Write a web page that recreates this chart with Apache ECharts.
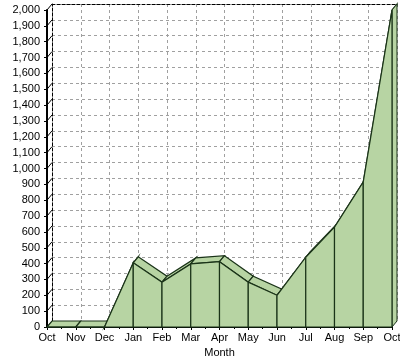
<!DOCTYPE html>
<html><head><meta charset="utf-8">
<script src="https://cdn.jsdelivr.net/npm/echarts@6/dist/echarts.min.js"></script>
<style>html,body{margin:0;padding:0;background:#fff}#c{width:400px;height:356px}</style>
</head><body><div id="c"></div>
<script>
const months = ['Oct','Nov','Dec','Jan','Feb','Mar','Apr','May','Jun','Jul','Aug','Sep','Oct'];
const visits = [0, 0, 0, 405, 283, 398, 412, 283, 200, 440, 630, 915, 2000];
const yTicks = [0,100,200,300,400,500,600,700,800,900,1000,1100,1200,1300,1400,1500,1600,1700,1800,1900,2000];

const DX = 5, DY = 6;
const FILL = '#b7d4a3', EDGE = '#1a3318';
const FONT = 'Liberation Sans';
const fmt = v => String(v).replace(/\B(?=(\d{3})+(?!\d))/g, ',');

const pts = visits.map((v, i) => [i, v]);

const chart = echarts.init(document.getElementById('c'), null, {renderer: 'canvas'});
chart.setOption({
  animation: false,
  grid: [
    {left: 47, right: 8, top: 10, bottom: 29, containLabel: false, outerBoundsMode: 'none'},
    {left: 47 + DX, right: 8 - DX, top: 10 - DY, bottom: 29 + DY, containLabel: false, outerBoundsMode: 'none'}
  ],
  xAxis: [
    {gridIndex: 0, type: 'category', data: months, boundaryGap: false, position: 'bottom',
     axisLine: {lineStyle: {color: '#000', width: 1}},
     axisTick: {show: true, interval: 0, length: 3, lineStyle: {color: '#000'}},
     axisLabel: {interval: 0, fontSize: 11, color: '#000', margin: 5, fontFamily: FONT},
     splitLine: {show: false},
     name: 'Month', nameLocation: 'middle', nameGap: 15,
     nameTextStyle: {fontSize: 11, color: '#000', fontFamily: FONT}},
    {gridIndex: 0, type: 'value', min: 0, max: 12, interval: 1, position: 'bottom',
     axisLine: {show: false}, axisTick: {show: false}, axisLabel: {show: false},
     splitLine: {show: false},
     minorTick: {show: true, splitNumber: 2, length: 2, lineStyle: {color: '#000'}}},
    {gridIndex: 1, type: 'category', data: months, boundaryGap: false, position: 'bottom',
     axisLine: {show: false}, axisTick: {show: false}, axisLabel: {show: false},
     splitLine: {show: true, interval: 0, lineStyle: {color: '#a0a0a0', type: [3, 3]}}},
    {gridIndex: 1, type: 'category', data: months, boundaryGap: false, position: 'top',
     axisLine: {show: true, lineStyle: {color: '#000', type: [3, 2]}},
     axisTick: {show: false}, axisLabel: {show: false}, splitLine: {show: false}}
  ],
  yAxis: [
    {gridIndex: 0, type: 'value', min: 0, max: 2000, interval: 100,
     axisLine: {show: true, lineStyle: {color: '#000', width: 2}},
     axisTick: {show: true, length: 3, lineStyle: {color: '#000'}},
     axisLabel: {fontSize: 11, color: '#000', margin: 7, fontFamily: FONT, formatter: fmt},
     splitLine: {show: false},
     name: 'Visits', nameLocation: 'middle', nameGap: 34, nameRotate: 90,
     nameTextStyle: {fontSize: 11, color: '#000', fontFamily: FONT}},
    {gridIndex: 1, type: 'value', min: 0, max: 2000, interval: 100,
     axisLine: {show: true, lineStyle: {color: '#000', type: [3, 2]}},
     axisTick: {show: false}, axisLabel: {show: false},
     splitLine: {show: true, lineStyle: {color: '#a0a0a0', type: [3, 3]}}}
  ],
  series: [
    {
      type: 'custom', xAxisIndex: 0, yAxisIndex: 0, clip: false, silent: true,
      data: yTicks.map(t => [0, t]), encode: {x: 0, y: 1},
      renderItem: (params, api) => {
        const p = api.coord([0, api.value(1)]);
        return {type: 'line', shape: {x1: p[0], y1: p[1], x2: p[0] + DX, y2: p[1] - DY},
                style: {stroke: '#000', lineWidth: 1}};
      }
    },
    {
      type: 'custom', xAxisIndex: 0, yAxisIndex: 0, clip: false, silent: true,
      data: pts, encode: {x: 0, y: 1},
      renderItem: (params, api) => {
        const i = params.dataIndex;
        const a = api.coord([i, visits[i]]);
        if (i === visits.length - 1) {
          const b = api.coord([i, 0]);
          return {type: 'polygon', shape: {points: [b, a, [a[0] + DX, a[1] - DY], [b[0] + DX, b[1] - DY]]},
                  style: {fill: FILL, stroke: EDGE, lineWidth: 1}};
        }
        const b = api.coord([i + 1, visits[i + 1]]);
        return {type: 'polygon', shape: {points: [a, b, [b[0] + DX, b[1] - DY], [a[0] + DX, a[1] - DY]]},
                style: {fill: FILL, stroke: EDGE, lineWidth: 1.2}};
      }
    },
    {
      type: 'custom', xAxisIndex: 0, yAxisIndex: 0, clip: false, silent: true,
      data: pts.slice(0, -1), encode: {x: 0, y: 1},
      renderItem: (params, api) => {
        const i = params.dataIndex;
        const a0 = api.coord([i, 0]), a = api.coord([i, visits[i]]);
        const b = api.coord([i + 1, visits[i + 1]]), b0 = api.coord([i + 1, 0]);
        return {type: 'polygon', shape: {points: [a0, a, b, b0]},
                style: {fill: FILL, stroke: EDGE, lineWidth: 1.2}};
      }
    }
  ]
});
</script></body></html>
